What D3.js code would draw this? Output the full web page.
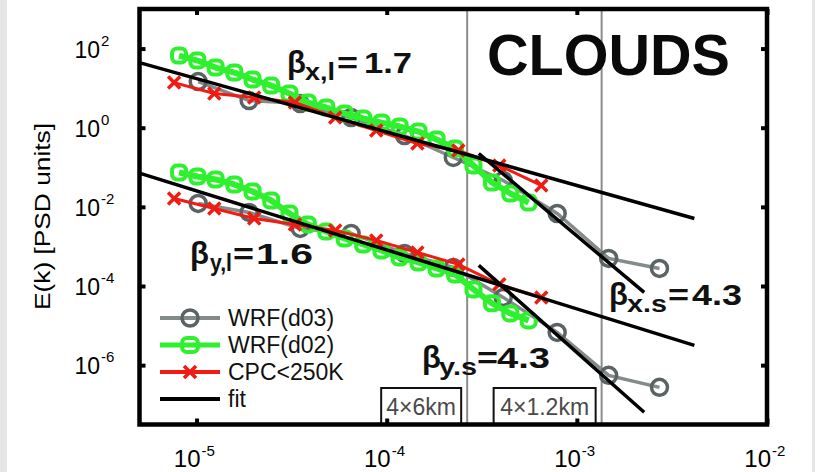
<!DOCTYPE html>
<html>
<head>
<meta charset="utf-8">
<script src="https://cdn.jsdelivr.net/npm/d3@7"></script>
<style>
  html, body { margin: 0; padding: 0; background: #e6e6e6; }
  svg { display: block; }
  text { font-family: "Liberation Sans", Arial, Helvetica, sans-serif; }
</style>
</head>
<body>
<svg id="chart" width="815" height="472"></svg>
<script>
// ---- spectra: wavenumber k [1/m] and PSD E(k) ----
// WRF inner domain (d03)
const kD03  = [1.02e-5, 1.89e-5, 3.51e-5, 6.50e-5, 1.24e-4, 2.24e-4, 4.10e-4, 7.88e-4, 1.47e-3, 2.72e-3];
const eD03x = [14.7, 4.86, 4.08, 1.81, 0.635, 0.177, 0.0464, 0.0068, 4.98e-4, 2.78e-4];
const eD03y = [0.0122, 0.00723, 0.00285, 0.00213, 6.65e-4, 2.95e-4, 5.15e-5, 6.73e-6, 5.52e-7, 2.75e-7];

// WRF outer domain (d02)
const kD02  = [8.09e-6, 1.01e-5, 1.26e-5, 1.58e-5, 1.97e-5, 2.47e-5, 3.08e-5, 3.85e-5, 4.81e-5, 6.01e-5,
               7.52e-5, 9.39e-5, 1.17e-4, 1.47e-4, 1.83e-4, 2.29e-4, 2.86e-4, 3.58e-4, 4.47e-4, 5.58e-4];
const eD02x = [66.6, 49.8, 33.1, 24.8, 16.5, 11.6, 7.31, 4.33, 3.24, 2.28,
               1.71, 1.35, 1.07, 0.801, 0.503, 0.299, 0.111, 0.0413, 0.0218, 0.0129];
const eD02y = [0.0739, 0.0586, 0.0492, 0.0368, 0.0245, 0.0145, 0.00681, 0.00360, 0.00239, 0.00159,
               0.00112, 7.93e-4, 5.27e-4, 3.94e-4, 2.78e-4, 1.96e-4, 8.20e-5, 3.64e-5, 2.03e-5, 1.35e-5];

// CPC satellite clouds colder than 250 K
const kCPC  = [7.62e-6, 1.24e-5, 2.01e-5, 3.29e-5, 5.36e-5, 8.81e-5, 1.45e-4, 2.38e-4, 3.91e-4, 6.50e-4];
const eCPCx = [13.8, 7.31, 5.80, 4.33, 1.81, 0.849, 0.399, 0.265, 0.111, 0.0347];
const eCPCy = [0.0163, 0.00912, 0.00509, 0.00360, 0.00254, 0.00142, 7.05e-4, 3.51e-4, 1.10e-4, 5.15e-5];

// power-law fits (end points), large-scale and small-scale ranges
const fitLargeK  = [5.01e-6, 4.15e-3];
const fitSmallK  = [3.05e-4, 2.26e-3];
const fitXLargeE = [44.3, 5.09e-3];
const fitXSmallE = [0.223, 6.89e-5];
const fitYLargeE = [0.0710, 3.16e-6];
const fitYSmallE = [3.31e-4, 6.46e-8];

// slope annotations
const slopeSubs   = ["x,l", "y,l", "y.s", "x.s"];
const slopeValues = ["1.7", "1.6", "4.3", "4.3"];

// effective-resolution markers
const resolutionK      = [2.65e-4, 1.35e-3];
const resolutionLabels = ["4\u00d76km", "4\u00d71.2km"];

// axes
const xTickExp = [-5, -4, -3, -2];
const yTickExp = [2, 0, -2, -4, -6];
const legendNames = ["WRF(d03)", "WRF(d02)", "CPC<250K", "fit"];
const titleText = "CLOUDS";
const yLabel = "E(k) [PSD units]";

// ---- layout ----
const svg = d3.select("#chart");
svg.append("rect").attr("x", 7).attr("y", 0).attr("width", 805).attr("height", 472).attr("fill", "#fff");

const L = 139.5, R = 767, T = 9, B = 424.5;
const x = d3.scaleLog().domain([Math.pow(10, -5.3), 1e-2]).range([L, R]);
const y = d3.scaleLog().domain([Math.pow(10, -7.5), 1e3]).range([B, T]);

const COL = { d03: "#858a8a", d03m: "#5a6464", d02: "#2ff02f", cpc: "#f01c14", fit: "#000" };

// resolution lines
svg.append("g").selectAll("line").data(resolutionK).join("line")
  .attr("x1", d => x(d)).attr("x2", d => x(d)).attr("y1", T).attr("y2", B)
  .attr("stroke", "#8c8c8c").attr("stroke-width", 2);

// resolution boxes
const boxW = [80, 102];
resolutionK.forEach((k, i) => {
  const xr = x(k) - 6, xl = xr - boxW[i];
  svg.append("rect").attr("x", xl).attr("y", 388).attr("width", boxW[i]).attr("height", B - 388)
    .attr("fill", "#fff").attr("stroke", "#111").attr("stroke-width", 2);
  svg.append("text").attr("x", (xl + xr) / 2).attr("y", 415).attr("text-anchor", "middle")
    .attr("font-size", 23).attr("fill", "#4a4a4a").text(resolutionLabels[i]);
});

const line = d3.line().x(d => x(d[0])).y(d => y(d[1]));
const zip = (a, b) => a.map((v, i) => [v, b[i]]);

function circles(g, pts, r) {
  g.selectAll(null).data(pts).join("circle")
    .attr("cx", d => x(d[0])).attr("cy", d => y(d[1])).attr("r", r)
    .attr("fill", "none").attr("stroke", COL.d03m).attr("stroke-width", 3.5);
}
function squares(g, pts, s) {
  g.selectAll(null).data(pts).join("rect")
    .attr("x", d => x(d[0]) - s / 2).attr("y", d => y(d[1]) - s / 2)
    .attr("width", s).attr("height", s).attr("rx", 5)
    .attr("fill", "none").attr("stroke", COL.d02).attr("stroke-width", 4);
}
function crosses(g, pts, h) {
  g.selectAll(null).data(pts).join("path")
    .attr("d", d => {
      const cx = x(d[0]), cy = y(d[1]);
      return `M${cx - h},${cy - h}L${cx + h},${cy + h}M${cx - h},${cy + h}L${cx + h},${cy - h}`;
    })
    .attr("fill", "none").attr("stroke", COL.cpc).attr("stroke-width", 3.5);
}

[[eD03x, eD02x, eCPCx], [eD03y, eD02y, eCPCy]].forEach(([e3, e2, ec]) => {
  const g = svg.append("g");
  const p3 = zip(kD03, e3), p2 = zip(kD02, e2), pc = zip(kCPC, ec);
  g.append("path").attr("d", line(p3)).attr("fill", "none").attr("stroke", COL.d03).attr("stroke-width", 3.5);
  circles(g, p3, 8);
  g.append("path").attr("d", line(p2)).attr("fill", "none").attr("stroke", COL.d02).attr("stroke-width", 6)
    .attr("stroke-linejoin", "round");
  squares(g, p2, 14);
  g.append("path").attr("d", line(pc)).attr("fill", "none").attr("stroke", COL.cpc).attr("stroke-width", 3);
  crosses(g, pc, 6);
});

// fits
[[fitLargeK, fitXLargeE], [fitSmallK, fitXSmallE], [fitLargeK, fitYLargeE], [fitSmallK, fitYSmallE]]
  .forEach(([k, e]) => {
    svg.append("path").attr("d", line(zip(k, e))).attr("fill", "none")
      .attr("stroke", COL.fit).attr("stroke-width", 3.5);
  });

// frame and ticks
svg.append("rect").attr("x", L).attr("y", T).attr("width", R - L).attr("height", B - T)
  .attr("fill", "none").attr("stroke", "#000").attr("stroke-width", 4.5);

const xTickVals = xTickExp.map(e => Math.pow(10, e));
const yTickVals = yTickExp.map(e => Math.pow(10, e));
function ticks(axis, tr) {
  const g = svg.append("g").attr("transform", tr).call(axis);
  g.select(".domain").remove();
  g.selectAll(".tick line").attr("stroke", "#000").attr("stroke-width", 4);
}
ticks(d3.axisBottom(x).tickValues(xTickVals).tickSize(-6).tickFormat(""), `translate(0,${B})`);
ticks(d3.axisTop(x).tickValues(xTickVals).tickSize(-6).tickFormat(""), `translate(0,${T})`);
ticks(d3.axisLeft(y).tickValues(yTickVals).tickSize(-6).tickFormat(""), `translate(${L},0)`);
ticks(d3.axisRight(y).tickValues(yTickVals).tickSize(-6).tickFormat(""), `translate(${R},0)`);

// tick labels (10 with superscript exponent)
xTickExp.forEach(e => {
  const px = x(Math.pow(10, e)) + 4;
  svg.append("text").attr("x", px).attr("y", 467).attr("text-anchor", "end").attr("font-size", 24).text("10");
  svg.append("text").attr("x", px + 1).attr("y", 456).attr("font-size", 15).text(String(e));
});
yTickExp.forEach(e => {
  const py = y(Math.pow(10, e));
  svg.append("text").attr("x", 100).attr("y", py + 9).attr("text-anchor", "end").attr("font-size", 23).text("10");
  svg.append("text").attr("x", 101).attr("y", py - 3).attr("font-size", 15).text(String(e));
});

// y axis title
svg.append("text").attr("transform", "translate(50,216.5) rotate(-90)").attr("text-anchor", "middle")
  .attr("font-size", 22).attr("textLength", 187).attr("lengthAdjust", "spacingAndGlyphs").text(yLabel);

// panel title
svg.append("text").attr("x", 487).attr("y", 75).attr("font-size", 58).attr("font-weight", "bold")
  .attr("textLength", 243).attr("lengthAdjust", "spacingAndGlyphs").attr("fill", "#0a0a0a").text(titleText);

// slope annotations
const slopePos = [
  { bx: 287, base: 73, sx: 305, sw: 30, ex: 337, vx: 364, vw: 48 },
  { bx: 190, base: 264, sx: 210, sw: 22, ex: 233, vx: 256, vw: 57 },
  { bx: 422, base: 368, sx: 439, sw: 38, ex: 477, vx: 497, vw: 53 },
  { bx: 609, base: 305, sx: 627, sw: 40, ex: 668, vx: 692, vw: 50 }
];
slopePos.forEach((p, i) => {
  const g = svg.append("g").attr("fill", "#111");
  g.append("text").attr("x", p.bx).attr("y", p.base).attr("font-size", 31).attr("font-weight", "bold").text("\u03b2");
  g.append("text").attr("x", p.sx).attr("y", p.base + 7).attr("font-size", 24).attr("font-weight", "bold")
    .attr("textLength", p.sw).attr("lengthAdjust", "spacingAndGlyphs").text(slopeSubs[i]);
  g.append("text").attr("x", p.ex).attr("y", p.base).attr("font-size", 30).attr("font-weight", "bold")
    .attr("textLength", 21).attr("lengthAdjust", "spacingAndGlyphs").text("=");
  g.append("text").attr("x", p.vx).attr("y", p.base).attr("font-size", 29).attr("font-weight", "bold")
    .attr("textLength", p.vw).attr("lengthAdjust", "spacingAndGlyphs").text(slopeValues[i]);
});

// legend
const legY = [318, 345, 372, 399];
const lg = svg.append("g");
legendNames.forEach((name, i) => {
  const yy = legY[i];
  const stroke = [COL.d03, COL.d02, COL.cpc, COL.fit][i];
  lg.append("line").attr("x1", 160).attr("x2", 220).attr("y1", yy).attr("y2", yy)
    .attr("stroke", stroke).attr("stroke-width", i === 1 ? 5 : 4);
  if (i === 0) lg.append("circle").attr("cx", 190).attr("cy", yy).attr("r", 8)
    .attr("fill", "none").attr("stroke", COL.d03m).attr("stroke-width", 3.5);
  if (i === 1) lg.append("rect").attr("x", 182).attr("y", yy - 7).attr("width", 16).attr("height", 14).attr("rx", 5)
    .attr("fill", "none").attr("stroke", COL.d02).attr("stroke-width", 4);
  if (i === 2) lg.append("path")
    .attr("d", `M184,${yy - 6}L196,${yy + 6}M184,${yy + 6}L196,${yy - 6}`)
    .attr("stroke", COL.cpc).attr("stroke-width", 3.5);
  lg.append("text").attr("x", 228).attr("y", yy + 8).attr("font-size", 23).attr("fill", "#111").text(name);
});
</script>
</body>
</html>
